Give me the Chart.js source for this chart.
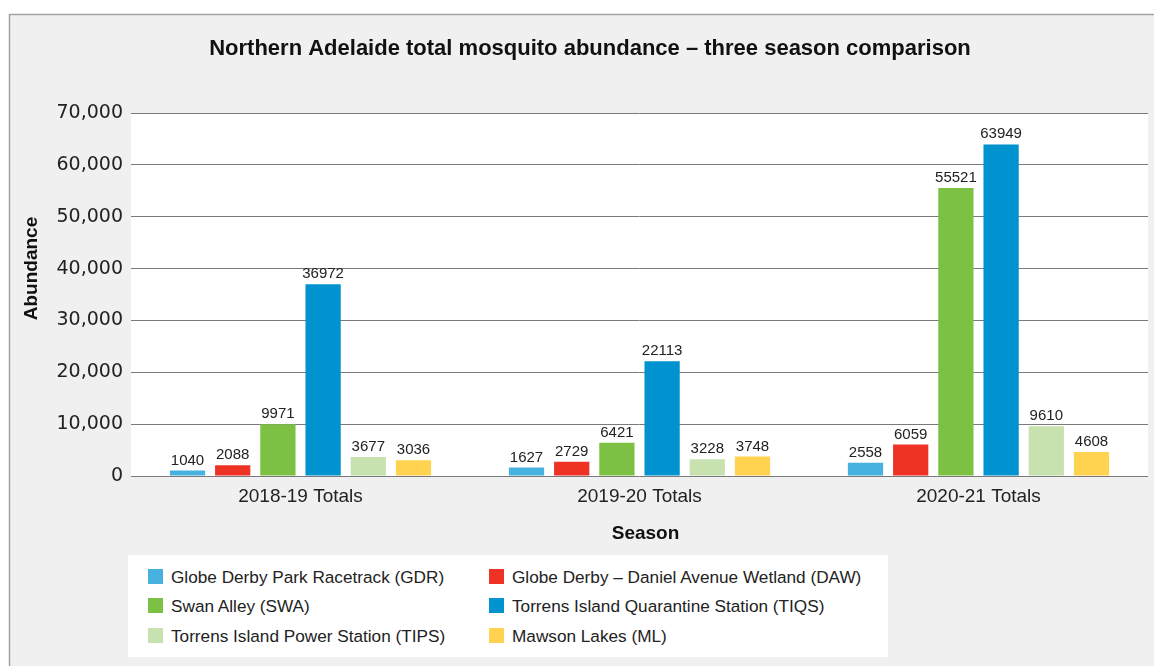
<!DOCTYPE html>
<html>
<head>
<meta charset="utf-8">
<script src="https://cdn.jsdelivr.net/npm/chart.js@4.4.1/dist/chart.umd.min.js"></script>
<style>
  html, body { margin: 0; padding: 0; background: #ffffff; }
  #wrap { position: relative; width: 1154px; height: 666px; overflow: hidden; }
  #chart { position: absolute; left: 0; top: 0; }
  #legend {
    position: absolute; left: 128px; top: 555px; width: 760px; height: 102px;
    background: #ffffff; font-family: "Liberation Sans", Arial, sans-serif;
    font-size: 17.2px; color: #222222;
  }
  .item { position: absolute; height: 20px; line-height: 20px; white-space: nowrap; }
  .sw { position: absolute; left: 0; top: 2px; width: 15px; height: 15px; }
  .lbl { position: absolute; left: 23px; top: 0; }
</style>
</head>
<body>
<div id="wrap">
  <canvas id="chart" width="1154" height="666"></canvas>
  <div id="legend"></div>
</div>
<script>
// Seasons on the category axis
const categories = ['2018-19 Totals', '2019-20 Totals', '2020-21 Totals'];

// Trap site names and colours
const siteNames = [
  'Globe Derby Park Racetrack (GDR)',
  'Globe Derby \u2013 Daniel Avenue Wetland (DAW)',
  'Swan Alley (SWA)',
  'Torrens Island Quarantine Station (TIQS)',
  'Torrens Island Power Station (TIPS)',
  'Mawson Lakes (ML)'
];
const siteColours = ['#47b2e0', '#ee3224', '#7cc143', '#0093d0', '#c7e2af', '#ffd24f'];

// Total mosquito counts per site, one value per season
const gdr  = [1040, 1627, 2558];
const daw  = [2088, 2729, 6059];
const swa  = [9971, 6421, 55521];
const tiqs = [36972, 22113, 63949];
const tips = [3677, 3228, 9610];
const ml   = [3036, 3748, 4608];

// Y axis range
const yMin = 0;
const yMax = 70000;
const yStep = 10000;

const chartTitle = 'Northern Adelaide total mosquito abundance \u2013 three season comparison';

const siteValues = [gdr, daw, swa, tiqs, tips, ml];
const FONT = '"Liberation Sans", Arial, sans-serif';
const WIDE = '"DejaVu Sans", "Liberation Sans", sans-serif';

// Grey panel with a border on the top and left edges, white plot area
const backdrop = {
  id: 'backdrop',
  beforeDraw(chart) {
    const { ctx, chartArea: a } = chart;
    ctx.save();
    ctx.fillStyle = '#ffffff';
    ctx.fillRect(0, 0, chart.width, chart.height);
    ctx.fillStyle = '#f0f0f0';
    ctx.fillRect(9, 14, chart.width - 9, chart.height - 14);
    ctx.strokeStyle = '#a3a3a3';
    ctx.lineWidth = 1.5;
    ctx.beginPath();
    ctx.moveTo(9, 14.5); ctx.lineTo(chart.width, 14.5);
    ctx.moveTo(9.5, 14); ctx.lineTo(9.5, chart.height);
    ctx.stroke();
    ctx.fillStyle = '#ffffff';
    ctx.fillRect(a.left, a.top, a.right - a.left, a.bottom - a.top);
    ctx.restore();
  }
};

// Chart title centred on the grey panel, plus the two axis titles
const headings = {
  id: 'headings',
  afterDraw(chart) {
    const { ctx, chartArea: a } = chart;
    ctx.save();
    ctx.fillStyle = '#111111';
    ctx.textAlign = 'center';
    ctx.textBaseline = 'middle';
    ctx.font = 'bold 22px ' + FONT;
    ctx.fillText(chartTitle, 590, 49);
    ctx.font = 'bold 19px ' + FONT;
    ctx.fillText('Season', (a.left + a.right) / 2 + 6, a.bottom + 58);
    ctx.translate(32, (a.top + a.bottom) / 2 - 26);
    ctx.rotate(-Math.PI / 2);
    ctx.fillText('Abundance', 0, 0);
    ctx.restore();
  }
};

// Value printed above each bar
const valueLabels = {
  id: 'valueLabels',
  afterDatasetsDraw(chart) {
    const { ctx } = chart;
    ctx.save();
    ctx.font = '15px ' + FONT;
    ctx.fillStyle = '#222222';
    ctx.textAlign = 'center';
    ctx.textBaseline = 'alphabetic';
    chart.data.datasets.forEach((ds, i) => {
      const meta = chart.getDatasetMeta(i);
      meta.data.forEach((bar, j) => {
        ctx.fillText(String(ds.data[j]), bar.x, bar.y - 6);
      });
    });
    ctx.restore();
  }
};

new Chart(document.getElementById('chart'), {
  type: 'bar',
  data: {
    labels: categories,
    datasets: siteNames.map((name, i) => ({
      label: name,
      data: siteValues[i],
      backgroundColor: siteColours[i],
      borderWidth: 0,
      categoryPercentage: 0.8,
      barPercentage: 0.78
    }))
  },
  options: {
    responsive: false,
    animation: false,
    layout: { padding: { left: 10, right: 6, top: 113, bottom: 120 } },
    plugins: {
      legend: { display: false },
      tooltip: { enabled: false },
      title: { display: false }
    },
    scales: {
      x: {
        grid: { display: false, drawTicks: false },
        border: { display: false },
        ticks: { color: '#222222', font: { family: FONT, size: 19 }, padding: 9 },
        afterFit(scale) { scale.height = 70; }
      },
      y: {
        min: yMin, max: yMax,
        grid: { color: '#7a7a7a', lineWidth: 1, drawTicks: false },
        border: { display: false },
        ticks: {
          stepSize: yStep, padding: 8, color: '#222222',
          font: { family: WIDE, size: 19 },
          callback: v => v.toLocaleString('en-AU')
        },
        afterFit(scale) { scale.width = 121; }
      }
    }
  },
  plugins: [backdrop, valueLabels, headings]
});

// Two-column legend underneath the chart
const legend = document.getElementById('legend');
const colX = [20, 361];
const rowY = [12, 41, 71];
siteNames.forEach((name, i) => {
  const item = document.createElement('div');
  item.className = 'item';
  item.style.left = colX[i % 2] + 'px';
  item.style.top = rowY[Math.floor(i / 2)] + 'px';
  const sw = document.createElement('span');
  sw.className = 'sw';
  sw.style.background = siteColours[i];
  const lbl = document.createElement('span');
  lbl.className = 'lbl';
  lbl.textContent = name;
  item.appendChild(sw);
  item.appendChild(lbl);
  legend.appendChild(item);
});
</script>
</body>
</html>
